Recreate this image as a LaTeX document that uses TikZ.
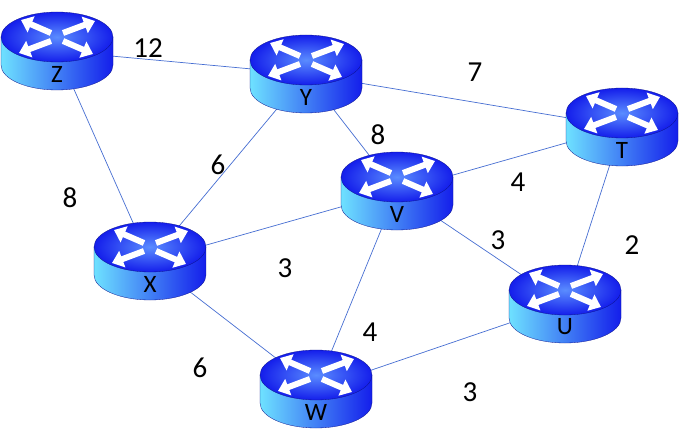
\documentclass[tikz,border=0pt]{standalone}
\usepackage{fontspec}
\setmainfont{Carlito}
\usetikzlibrary{arrows.meta}
\definecolor{linkc}{RGB}{70,110,210}
\definecolor{rtop}{RGB}{20,30,235}
\definecolor{rtopin}{RGB}{90,140,255}
\definecolor{rside}{RGB}{110,225,255}
\tikzset{link/.style={linkc,line width=0.7pt},
 wlabel/.style={font=\fontsize{29}{29}\selectfont,text=black},
 rlabel/.style={font=\fontsize{25}{25}\selectfont,text=black},
 rarrow/.style={white,line width=6pt,-{Triangle[length=11pt,width=17pt]}}}
\newcommand\myrouter[4]{%
 \shade[left color=rside,right color=rtop,draw=rtop!60!black,line width=0.3pt]
  (#1-56,#2) -- (#1-56,#2+28) arc[start angle=180,end angle=360,x radius=56,y radius=-25]
  -- (#1+56,#2) -- cycle;
 \shade[inner color=rtopin,outer color=rtop,draw=rtop!60!black,line width=0.3pt]
  (#1,#2) ellipse[x radius=56,y radius=25];
 \draw[rarrow] (#1-6,#2-4) -- (#1-36,#2-17);
 \draw[rarrow] (#1+6,#2-4) -- (#1+38,#2-16);
 \draw[rarrow] (#1-6,#2+4) -- (#1-38,#2+16);
 \draw[rarrow] (#1+6,#2+4) -- (#1+36,#2+17);
 \node[rlabel] (#3) at (#1,#2+37) {#4};}
\begin{document}
\begin{tikzpicture}[x=1pt,y=-1pt]
\useasboundingbox[fill=white] (0,0) rectangle (680,433);
\coordinate (cz) at (57,51);
\coordinate (cy) at (306,74);
\coordinate (ct) at (622,127);
\coordinate (cv) at (397,191);
\coordinate (cx) at (150,261);
\coordinate (cu) at (565,304);
\coordinate (cw) at (316,389);
\draw[link] (cz) -- (cy);
\draw[link] (cz) -- (cx);
\draw[link] (cy) -- (cx);
\draw[link] (cy) -- (cv);
\draw[link] (cy) -- (ct);
\draw[link] (ct) -- (cv);
\draw[link] (ct) -- (cu);
\draw[link] (cv) -- (cx);
\draw[link] (cv) -- (cu);
\draw[link] (cv) -- (cw);
\draw[link] (cx) -- (cw);
\draw[link] (cw) -- (cu);
\myrouter{57}{37}{Z}{Z}
\myrouter{306}{60}{Y}{Y}
\myrouter{622}{113}{T}{T}
\myrouter{397}{177}{V}{V}
\myrouter{150}{247}{X}{X}
\myrouter{565}{290}{U}{U}
\myrouter{316}{375}{W}{W}
\node[wlabel] (l1) at (148,48) {12};
\node[wlabel] (l2) at (475,72) {7};
\node[wlabel] (l3) at (378,135) {8};
\node[wlabel] (l4) at (218,165) {6};
\node[wlabel] (l5) at (70,198) {8};
\node[wlabel] (l6) at (518,182) {4};
\node[wlabel] (l7) at (498,240) {3};
\node[wlabel] (l8) at (632,245) {2};
\node[wlabel] (l9) at (285,268) {3};
\node[wlabel] (l10) at (370,332) {4};
\node[wlabel] (l11) at (200,368) {6};
\node[wlabel] (l12) at (470,392) {3};
\end{tikzpicture}
\end{document}
